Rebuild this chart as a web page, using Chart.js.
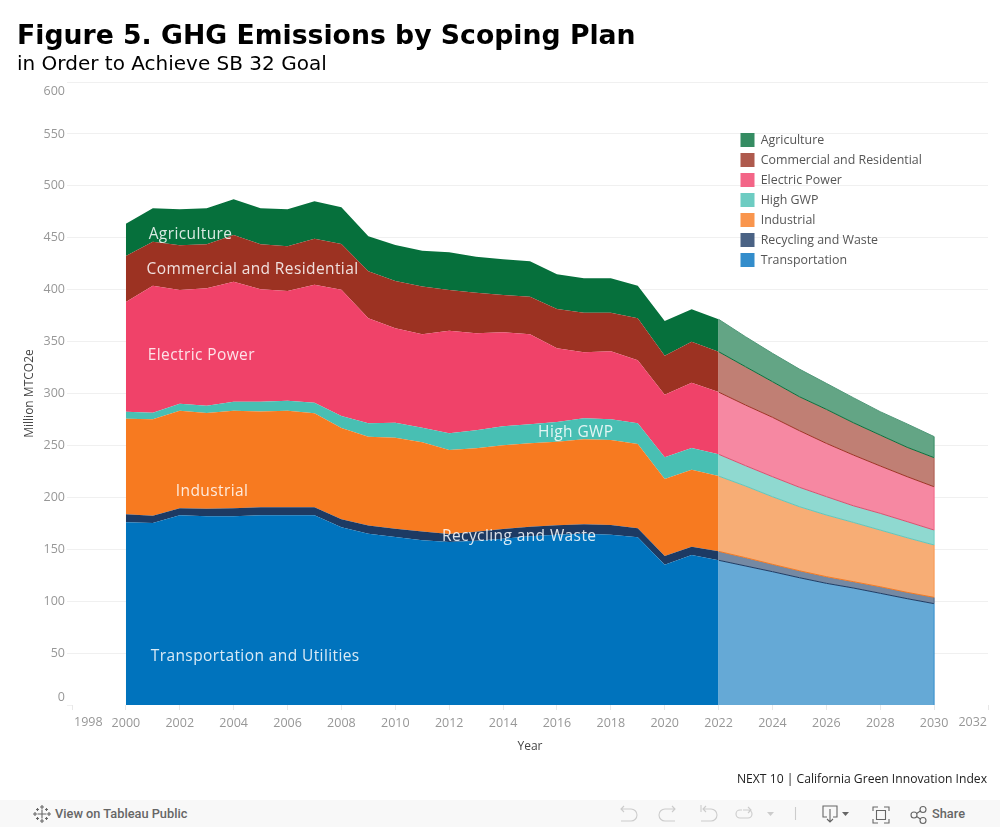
<!DOCTYPE html>
<html>
<head>
<meta charset="utf-8">
<title>Figure 5. GHG Emissions by Scoping Plan</title>
<script src="https://cdn.jsdelivr.net/npm/chart.js@4"></script>
<style>
    html, body { margin: 0; padding: 0; background: #fff; overflow: hidden; }
    #wrap { position: relative; width: 1000px; height: 800px; }
    #toolbar { position: relative; width: 1000px; height: 27px; background: #f8f8f8; font: 500 12.8px Roboto, sans-serif; color: #666; }
    #toolbar span { position: absolute; top: 6px; }
    #toolbar svg { position: absolute; left: 0; top: 0; }
</style>
</head>
<body>
<div id="wrap"><canvas id="emissions"></canvas></div>
<div id="toolbar">
    <svg width="1000" height="27" fill="none" stroke-width="1.1">
        <g stroke="#666">
            <path d="M42 9.500v9M37.500 14h9M42 5v4M40 7h4M42 19v4M40 21h4M35 12v4M33 14h4M49 12v4M47 14h4"/>
            <path d="M37.500 8v3M36 9.500h3M46.500 8v3M45 9.500h3M37.500 17v3M36 18.500h3M46.500 17v3M45 18.500h3"/>
        </g>
        <g stroke="#ccc">
            <path d="M621 9h10a6 6 0 0 1 0 12h-10M624 6l-3 3 3 3"/>
            <path d="M675 9h-10a6 6 0 0 0 0 12h10M672 6l3 3-3 3"/>
            <path d="M701 5v7M703 9h8a6 6 0 0 1 0 12h-10M706 6l-3 3 3 3"/>
            <path d="M742 10h-2a4 4 0 0 0 0 8h8a4 4 0 0 0 0-8h-5M748 7l3 3-3 3"/>
            <path d="M795.500 7v13"/>
        </g>
        <path d="M767 12h7l-3.500 4z" fill="#ccc"/>
        <g stroke="#666">
            <path d="M827 17h-4v-11h14v11h-4M830 9v13M827 19l3 3 3-3"/>
            <path d="M878 7h-5v4M884 7h5v4M878 23h-5v-4M884 23h5v-4M876.500 10.500h9v9h-9z"/>
            <circle cx="914" cy="15" r="3"/><circle cx="923" cy="9.500" r="3"/><circle cx="923" cy="20.500" r="3"/>
            <path d="M916.600 13.500l3.800-2.500M916.600 16.500l3.800 2.500"/>
        </g>
        <path d="M842 12h7l-3.500 4z" fill="#666"/>
    </svg>
    <span style="left:55px">View on Tableau Public</span>
    <span style="left:932px">Share</span>
</div>
<script>
const years = [2000, 2001, 2002, 2003, 2004, 2005, 2006, 2007, 2008, 2009, 2010, 2011, 2012, 2013, 2014, 2015,
    2016, 2017, 2018, 2019, 2020, 2021, 2022, 2023, 2024, 2025, 2026, 2027, 2028, 2029, 2030];

const transportation = [176, 175.3, 182.7, 181.7, 181.7, 182.7, 182.7, 182.7, 171.1, 165, 161.8, 158.6, 157, 158.2, 160.2, 162.5,
    164, 165, 164, 161.5, 135.1, 144.5, 139.4, 133.9, 128.4, 122.6, 117.2, 112.7, 107.6, 102.4, 97.6];
const recycling = [7.6, 7, 6.7, 7.3, 7.7, 7.7, 7.7, 7.7, 7.7, 8, 8, 8.4, 7.7, 8.7, 9.3, 9.2,
    9.1, 9, 9.4, 8.7, 8.4, 8, 8.6, 8, 7.1, 6.7, 6.4, 6.1, 6.3, 6.1, 6.1];
const industrial = [92.2, 92.8, 94, 92.2, 94, 92.4, 93, 90.5, 88, 85.4, 87.6, 86, 80.9, 80.3, 80.6, 80.3,
    80.5, 81.9, 81.8, 81.2, 74.2, 74.1, 72.5, 69, 65.1, 61.7, 59.4, 57.1, 54.6, 52.6, 50.4];
const highGwp = [6.7, 6.4, 6.8, 7.1, 8.7, 9.3, 9.7, 10.2, 11.5, 12.9, 14.5, 14, 16.1, 17.4, 18.3, 18.4,
    19, 20.2, 20, 19.9, 20.9, 20.9, 21, 19.6, 19.3, 18.7, 17.7, 16, 16.1, 15.5, 14.4];
const electricPower = [105.6, 122.3, 109.5, 113, 115.6, 108.3, 105.6, 113.7, 121.7, 101.1, 90.9, 90, 98.8, 93.4, 90.5, 86.6,
    70.9, 63.6, 65.4, 60.7, 60.3, 62.9, 59.9, 58.4, 57.2, 54.5, 51.3, 48.9, 45.6, 43.3, 41.7];
const commercial = [44.3, 42.4, 43, 42.4, 45, 43.3, 43.1, 44.3, 44, 45.3, 45.6, 46, 39.2, 39.1, 36, 36.2,
    37.9, 38.1, 37.2, 40.4, 37.5, 39.5, 38.9, 36.9, 34.3, 32.7, 32.8, 31.1, 29.8, 28.3, 28];
const agriculture = [31.1, 32.2, 34.7, 34.7, 34.3, 34.7, 35.6, 36, 35.3, 33.7, 34.6, 34.5, 36.3, 34.7, 34.4, 34.1,
    33.4, 33.2, 33.2, 31.5, 33.4, 31.2, 31.2, 28.9, 27.3, 26.6, 25, 24.1, 22.5, 22.5, 20.3];

const forecastStart = 2022;

// lineColor is the thin edge on top of each forecast band, it takes the colour of the band above
const makeSeries = (label, data, solid, legendColor, forecastColor, lineColor, index) => ({
    label: label,
    data: data,
    fill: index === 0 ? 'origin' : '-1',
    backgroundColor: legendColor,
    forecastColor: forecastColor,
    borderColor: lineColor,
    borderWidth: 1,
    pointRadius: 0,
    tension: 0,
    segment: {
        backgroundColor: ctx => ctx.p0.parsed.x >= forecastStart ? forecastColor : solid,
        borderColor: ctx => ctx.p0.parsed.x >= forecastStart ? lineColor : 'transparent'
    }
});

// labels painted on top of the areas, placed in data units
const areaLabels = [
    { text: 'Agriculture', year: 2002.4, value: 453 },
    { text: 'Commercial and Residential', year: 2004.7, value: 419.5 },
    { text: 'Electric Power', year: 2002.8, value: 337 },
    { text: 'High GWP', year: 2016.7, value: 262 },
    { text: 'Industrial', year: 2003.2, value: 206 },
    { text: 'Recycling and Waste', year: 2014.6, value: 162.6 },
    { text: 'Transportation and Utilities', year: 2004.8, value: 46.2 }
];

const labelFont = '"Open Sans", sans-serif';
const tickColor = '#979797';
const gridColor = '#f0f0f0';

const chartText = {
    id: 'chartText',
    afterLayout(chart) {
        // tuck the legend inside the plot, top right
        chart.legend.left = 734.5;
        chart.legend.top = 127;
    },
    afterDatasetsDraw(chart) {
        // thin closing edge at the end of the forecast, and cover the seam where the forecast starts
        const { ctx, scales } = chart;
        const seam = years.indexOf(forecastStart);
        ctx.save();
        ctx.lineWidth = 1;
        chart.data.datasets.forEach((ds, i) => {
            const pts = chart.getDatasetMeta(i).data;
            const lower = i === 0 ? null : chart.getDatasetMeta(i - 1).data;
            const base = scales.y.getPixelForValue(0);
            const last = pts.length - 1;

            ctx.strokeStyle = ds.backgroundColor;
            ctx.beginPath();
            ctx.moveTo(pts[last].x, pts[last].y);
            ctx.lineTo(pts[last].x, lower ? lower[last].y : base);
            ctx.stroke();

            ctx.strokeStyle = ds.forecastColor;
            ctx.beginPath();
            ctx.moveTo(pts[seam].x, pts[seam].y);
            ctx.lineTo(pts[seam].x, lower ? lower[seam].y : base);
            ctx.stroke();
        });
        ctx.restore();
    },
    afterDraw(chart) {
        const { ctx, scales } = chart;
        ctx.save();
        ctx.textBaseline = 'middle';
        ctx.font = '15.5px ' + labelFont;
        ctx.fillStyle = 'rgba(255,255,255,0.85)';
        ctx.textAlign = 'center';
        ctx.letterSpacing = '0.4px';
        areaLabels.forEach(l => {
            ctx.fillText(l.text, scales.x.getPixelForValue(l.year), scales.y.getPixelForValue(l.value));
        });

        // first and last tick labels sit inside the plot edge
        ctx.letterSpacing = '0px';
        ctx.font = '12.5px ' + labelFont;
        ctx.fillStyle = tickColor;
        ctx.textAlign = 'left';
        ctx.fillText('1998', scales.x.getPixelForValue(1998) + 2, 722);
        ctx.textAlign = 'right';
        ctx.fillText('2032', scales.x.getPixelForValue(2032) - 1, 722);
        ctx.fillText('600', 65, scales.y.getPixelForValue(600) + 9);
        ctx.fillText('0', 65, scales.y.getPixelForValue(0) - 8);

        ctx.font = '12.15px ' + labelFont;
        ctx.fillStyle = '#222';
        ctx.fillText('NEXT 10 | California Green Innovation Index', 987, 780);
        ctx.restore();
    }
};

new Chart(document.getElementById('emissions'), {
    type: 'line',
    data: {
        labels: years,
        datasets: [
            makeSeries('Transportation', transportation, '#0073BD', '#338DCB', '#65A9D6', '#1D3A63', 0),
            makeSeries('Recycling and Waste', recycling, '#1D3A63', '#4A6284', '#7589A3', '#F77A20', 1),
            makeSeries('Industrial', industrial, '#F77A20', '#F9954D', '#F7AD75', '#5FC7BC', 2),
            makeSeries('High GWP', highGwp, '#48BFB3', '#6DCCC2', '#8FD9D0', '#D9506F', 3),
            makeSeries('Electric Power', electricPower, '#F04269', '#F36587', '#F688A2', '#9C3222', 4),
            makeSeries('Commercial and Residential', commercial, '#9C3222', '#AE5A4D', '#C07F74', '#06703C', 5),
            makeSeries('Agriculture', agriculture, '#06703C', '#358C62', '#63A585', '#52997A', 6)
        ]
    },
    options: {
        responsive: true,
        maintainAspectRatio: false,
        animation: false,
        layout: { padding: { left: 17, right: 12, top: 0, bottom: 46 } },
        plugins: {
            title: {
                display: true,
                text: 'Figure 5. GHG Emissions by Scoping Plan',
                align: 'start',
                color: '#000',
                font: { family: '"DejaVu Sans"', size: 26.7, weight: 'bold' },
                padding: { top: 21, bottom: 0 }
            },
            subtitle: {
                display: true,
                text: 'in Order to Achieve SB 32 Goal',
                align: 'start',
                color: '#000',
                font: { family: '"DejaVu Sans"', size: 20 },
                padding: { top: 0, bottom: 5 }
            },
            legend: {
                position: 'chartArea',
                align: 'start',
                reverse: true,
                labels: {
                    boxWidth: 14,
                    boxHeight: 14,
                    padding: 6,
                    color: '#555',
                    font: { family: labelFont, size: 12.4 },
                    generateLabels: chart => Chart.defaults.plugins.legend.labels.generateLabels(chart)
                        .map(item => ({ ...item, lineWidth: 0 }))
                }
            },
            tooltip: { enabled: false }
        },
        scales: {
            x: {
                type: 'linear',
                min: 1998,
                max: 2032,
                border: { display: false },
                grid: { drawOnChartArea: false, tickLength: 5, tickColor: '#e8e8e8' },
                ticks: {
                    stepSize: 2,
                    autoSkip: false,
                    maxRotation: 0,
                    padding: 6,
                    color: tickColor,
                    font: { family: labelFont, size: 12.5 },
                    // 1998 and 2032 are drawn by chartText
                    callback: value => (value === 1998 || value === 2032) ? '' : String(value)
                },
                title: {
                    display: true,
                    text: 'Year',
                    color: '#444',
                    font: { family: labelFont, size: 12 },
                    padding: { top: 0, bottom: 0 }
                },
                afterFit: scale => { scale.height = 49; }
            },
            y: {
                stacked: true,
                min: 0,
                max: 600,
                border: { display: false },
                grid: {
                    color: ctx => ctx.tick.value === 0 ? 'transparent' : gridColor,
                    tickColor: gridColor,
                    tickLength: 5
                },
                ticks: {
                    stepSize: 50,
                    padding: 2,
                    color: tickColor,
                    font: { family: labelFont, size: 12.5 },
                    // 0 and 600 are drawn by chartText
                    callback: value => (value === 0 || value === 600) ? '' : String(value)
                },
                title: {
                    display: true,
                    text: 'Million MTCO2e',
                    color: '#444',
                    font: { family: labelFont, size: 12 },
                    padding: { top: 5, bottom: 0 }
                },
                afterFit: scale => { scale.width = 55; }
            }
        }
    },
    plugins: [chartText]
});
</script>
</body>
</html>
